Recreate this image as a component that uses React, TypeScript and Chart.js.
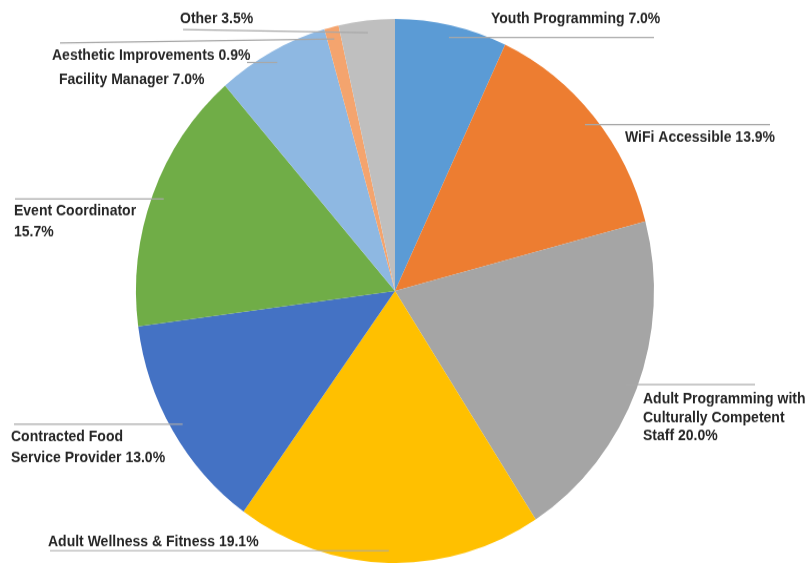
import React, { useEffect, useRef } from "react";
import { Chart, registerables } from "chart.js";

Chart.register(...registerables);

// ---- data ----
const categoryLabels = [
  "Youth Programming",
  "WiFi Accessible",
  "Adult Programming with\nCulturally Competent\nStaff",
  "Adult Wellness & Fitness",
  "Contracted Food\nService Provider",
  "Event Coordinator\n",
  "Facility Manager",
  "Aesthetic Improvements",
  "Other",
];
const shares = [7.0, 13.9, 20.0, 19.1, 13.0, 15.7, 7.0, 0.9, 3.5];
const sliceColors = [
  "#5B9BD5",
  "#ED7D31",
  "#A5A5A5",
  "#FFC000",
  "#4472C4",
  "#70AD47",
  "#8EB8E2",
  "#F4A46E",
  "#BFBFBF",
];

// label placement (page px): text start x, first line y, line height, leader end x / y
const labelLayout = [
  { tx: 491, ty: 19, lh: 0, ex: 654 },
  { tx: 625, ty: 138, lh: 0, ex: 770 },
  { tx: 643, ty: 399.5, lh: 18.5, ex: 755 },
  { tx: 48, ty: 542, lh: 0, ex: 50 },
  { tx: 11, ty: 437.5, lh: 21, ex: 14 },
  { tx: 14, ty: 211.5, lh: 20.5, ex: 15 },
  { tx: 59, ty: 80.5, lh: 0, ex: 247 },
  { tx: 52, ty: 56, lh: 0, ex: 60, ey: 43 },
  { tx: 180, ty: 19, lh: 0, ex: 183, ey: 29.5 },
];

const CANVAS_W = 810;
const CANVAS_H = 536;
const PAGE_H = 563;
const SY = PAGE_H / CANVAS_H;

const labels = categoryLabels.map((c) => c.replace(/\n/g, " ").trim());
const labelLines = categoryLabels.map((c, i) => {
  const pct = shares[i].toFixed(1) + "%";
  const full = c.endsWith("\n") ? c + pct : c + " " + pct;
  return full.split("\n");
});

const leaderPlugin = {
  id: "leaderLabels",
  afterDraw(chart: any) {
    const ctx = chart.ctx as CanvasRenderingContext2D;
    const arcs = chart.getDatasetMeta(0).data;
    ctx.save();
    arcs.forEach((arc: any, i: number) => {
      const p = arc.getProps(["x", "y", "startAngle", "endAngle", "outerRadius"], true);
      const mid = (p.startAngle + p.endAngle) / 2;
      const sx = p.x + Math.cos(mid) * p.outerRadius * 0.955;
      const sy = p.y + Math.sin(mid) * p.outerRadius * 0.955;
      const L: any = labelLayout[i];
      const ey = L.ey !== undefined ? L.ey / SY : sy;
      ctx.strokeStyle = "#A8A8A8";
      ctx.lineWidth = 1.2;
      ctx.beginPath();
      ctx.moveTo(sx, sy);
      ctx.lineTo(L.ex, ey);
      ctx.stroke();
    });
    ctx.fillStyle = "#262626";
    ctx.font = "bold 14px 'Liberation Sans', Arial, sans-serif";
    ctx.textBaseline = "middle";
    ctx.textAlign = "left";
    labelLines.forEach((lines, i) => {
      const L = labelLayout[i];
      lines.forEach((t, k) => {
        ctx.fillText(t, L.tx, (L.ty + k * L.lh) / SY);
      });
    });
    ctx.restore();
  },
};

export default function App() {
  const ref = useRef<HTMLCanvasElement>(null);
  useEffect(() => {
    if (!ref.current) return;
    const chart = new Chart(ref.current, {
      type: "pie",
      data: {
        labels,
        datasets: [
          {
            data: shares,
            backgroundColor: sliceColors,
            borderWidth: 0,
            hoverOffset: 0,
            offset: 0,
            radius: 259,
          } as any,
        ],
      },
      options: {
        responsive: false,
        animation: false,
        devicePixelRatio: 1,
        events: [],
        layout: { padding: { left: 0, right: 20, top: 18, bottom: 0 } },
        plugins: {
          legend: { display: false },
          tooltip: { enabled: false },
        },
      },
      plugins: [leaderPlugin],
    });
    return () => chart.destroy();
  }, []);
  return (
    <div
      style={{
        position: "absolute",
        left: 0,
        top: 0,
        width: 810,
        height: 563,
        background: "#ffffff",
        overflow: "hidden",
      }}
    >
      <canvas
        ref={ref}
        width={CANVAS_W}
        height={CANVAS_H}
        style={{ width: "810px", height: PAGE_H + "px", display: "block" }}
      />
    </div>
  );
}
